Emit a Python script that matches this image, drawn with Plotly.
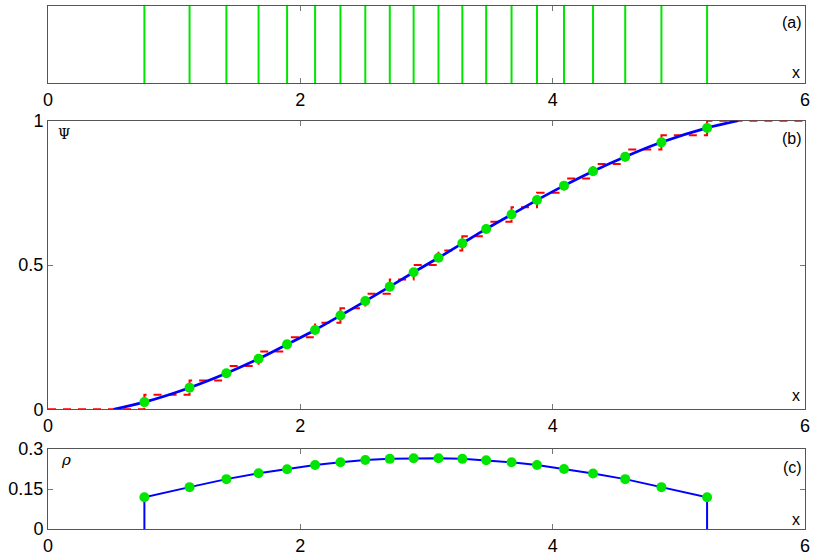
import plotly.graph_objects as go

# node positions
x_nodes = [0.764, 1.122, 1.414, 1.669, 1.895, 2.117, 2.318, 2.515, 2.709, 2.898,
           3.095, 3.284, 3.473, 3.674, 3.876, 4.090, 4.320, 4.575, 4.862, 5.224]
# Psi at the nodes (green dots in panel b)
psi_nodes = [0.025, 0.075, 0.125, 0.175, 0.225, 0.275, 0.325, 0.375, 0.425, 0.475,
             0.525, 0.575, 0.625, 0.675, 0.725, 0.775, 0.825, 0.875, 0.925, 0.975]
# empirical step levels (red dashed)
step_levels = [0.0, 0.05, 0.10, 0.15, 0.20, 0.25, 0.30, 0.35, 0.40, 0.45, 0.50,
               0.55, 0.60, 0.65, 0.70, 0.75, 0.80, 0.85, 0.90, 0.95, 1.0, 1.0]
# ends of the smooth Psi curve
psi_start, psi_end = 0.52, 5.47
# density at the nodes (panel c)
rho_nodes = [0.119, 0.157, 0.187, 0.209, 0.224, 0.240, 0.250, 0.259, 0.263, 0.265,
             0.265, 0.263, 0.258, 0.250, 0.240, 0.225, 0.208, 0.187, 0.157, 0.119]

GREEN = '#00e600'
BLUE = '#0000ff'
RED = '#ff0000'
FONT = 'Liberation Sans, Arial, sans-serif'

fig = go.Figure()

# (a) vertical lines at the nodes
vx, vy = [], []
for xv in x_nodes:
    vx += [xv, xv, None]
    vy += [0, 1, None]
fig.add_trace(go.Scatter(x=vx, y=vy, mode='lines', line=dict(color=GREEN, width=2),
                         xaxis='x', yaxis='y'))

# (b) step function, smooth curve and dots
fig.add_trace(go.Scatter(x=[0] + x_nodes + [6], y=step_levels, mode='lines',
                         line=dict(color=RED, width=2, dash='8px,7px', shape='hv'),
                         xaxis='x2', yaxis='y2'))
fig.add_trace(go.Scatter(x=[psi_start] + x_nodes + [psi_end], y=[0] + psi_nodes + [1],
                         mode='lines', line=dict(color=BLUE, width=2.7, shape='spline', smoothing=0.8),
                         xaxis='x2', yaxis='y2'))
fig.add_trace(go.Scatter(x=x_nodes, y=psi_nodes, mode='markers',
                         marker=dict(color=GREEN, size=10), xaxis='x2', yaxis='y2'))

# (c) density
fig.add_trace(go.Scatter(x=[x_nodes[0]] + x_nodes + [x_nodes[-1]], y=[0] + rho_nodes + [0],
                         mode='lines', line=dict(color=BLUE, width=2),
                         xaxis='x3', yaxis='y3'))
fig.add_trace(go.Scatter(x=x_nodes, y=rho_nodes, mode='markers',
                         marker=dict(color=GREEN, size=10), xaxis='x3', yaxis='y3'))

xdom = [48 / 815, 805 / 815]
axcommon = dict(showline=True, linecolor='#555', linewidth=1, mirror='allticks',
                ticks='inside', ticklen=5, tickcolor='#777', showgrid=False, zeroline=False,
                automargin=False, layer='below traces',
                tickfont=dict(family=FONT, size=18, color='black'))
xticks = dict(range=[0, 6], tickvals=[0, 2, 4, 6], ticktext=['0', '2', '4', '6'])

fig.update_layout(
    width=815, height=556, margin=dict(l=0, r=0, t=0, b=0, autoexpand=False),
    paper_bgcolor='white', plot_bgcolor='white', showlegend=False,
    xaxis=dict(domain=xdom, anchor='y', **xticks, **axcommon),
    yaxis=dict(domain=[1 - 83 / 556, 1 - 6 / 556], anchor='x', range=[0, 1],
               showticklabels=False, showline=True, linecolor='#555', mirror=True,
               ticks='', showgrid=False, zeroline=False, automargin=False),
    xaxis2=dict(domain=xdom, anchor='y2', **xticks, **axcommon),
    yaxis2=dict(domain=[1 - 409.3 / 556, 1 - 120.7 / 556], anchor='x2', range=[0, 1],
                tickvals=[0, 0.5, 1], ticktext=['0', '0.5', '1'], **axcommon),
    xaxis3=dict(domain=xdom, anchor='y3', **xticks, **axcommon),
    yaxis3=dict(domain=[1 - 529 / 556, 1 - 449 / 556], anchor='x3', range=[0, 0.3],
                tickvals=[0, 0.15, 0.3], ticktext=['0', '0.15', '0.3'], **axcommon),
)

ann = []
labels = [('(a)', 'x domain', 'y domain', 0.78, 0.13),
          ('(b)', 'x2 domain', 'y2 domain', 0.94, 0.047),
          ('(c)', 'x3 domain', 'y3 domain', 0.775, 0.125)]
for txt, xr, yr, yl, yx in labels:
    ann.append(dict(text=txt, xref=xr, yref=yr, x=1, y=yl, xanchor='right', yanchor='middle',
                    xshift=-1, showarrow=False, font=dict(family=FONT, size=16, color='black')))
    ann.append(dict(text='x', xref=xr, yref=yr, x=1, y=yx, xanchor='right', yanchor='middle',
                    xshift=-3, showarrow=False, font=dict(family=FONT, size=16, color='black')))
ann.append(dict(text='Ψ', xref='x2 domain', yref='y2 domain', x=0.021, y=0.953,
                xanchor='center', yanchor='middle', showarrow=False,
                font=dict(family='DejaVu Serif, serif', size=14, color='black')))
ann.append(dict(text='<i>ρ</i>', xref='x3 domain', yref='y3 domain', x=0.024, y=0.86,
                xanchor='center', yanchor='middle', showarrow=False,
                font=dict(family='DejaVu Serif, serif', size=15, color='black')))
fig.update_layout(annotations=ann)

fig.write_html("out.html", config={'displayModeBar': False},
               post_script="document.body.style.margin='0';")
